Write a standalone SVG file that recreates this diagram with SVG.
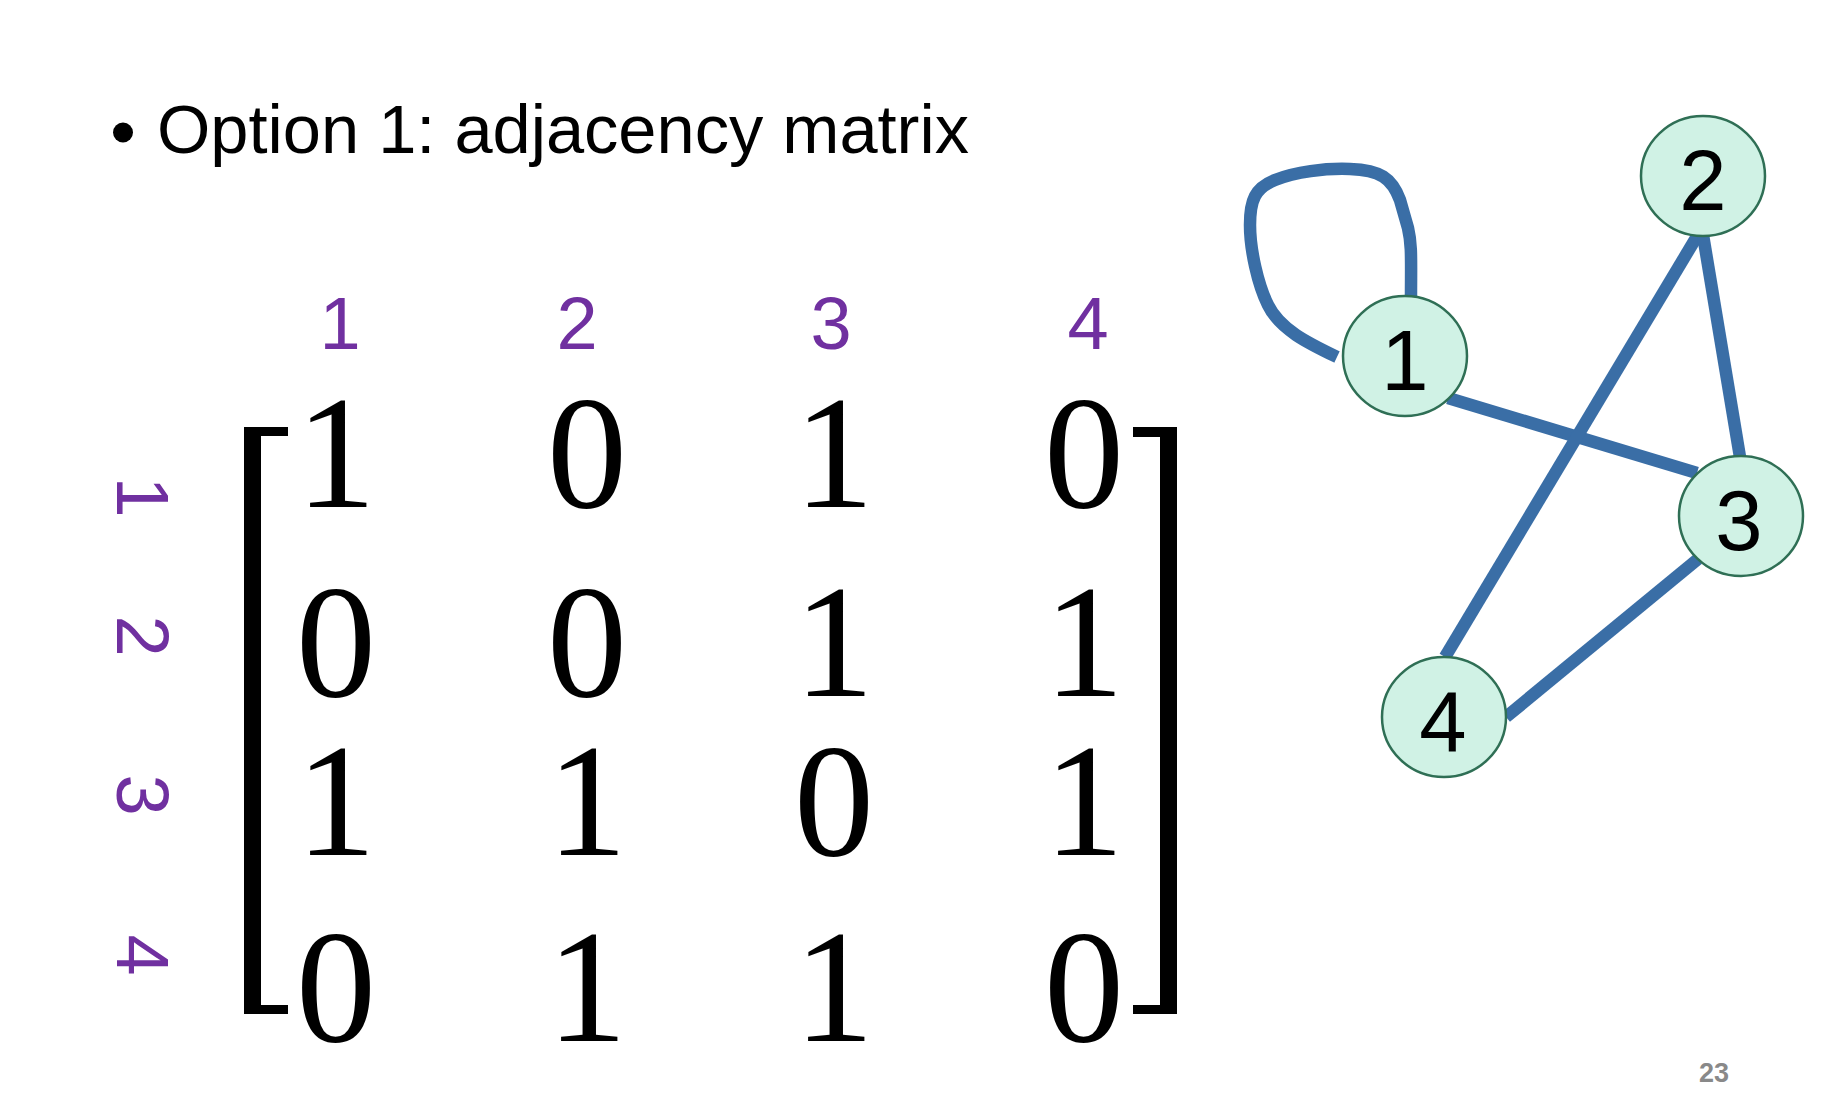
<svg xmlns="http://www.w3.org/2000/svg" width="1848" height="1096" viewBox="0 0 1848 1096">
<style>
.title{font-family:"Liberation Sans",Arial,sans-serif;font-size:68px;fill:#000}
.lab{font-family:"Liberation Sans",Arial,sans-serif;font-size:74px;fill:#7030a0;text-anchor:middle}
.cell{font-family:"Liberation Serif","Times New Roman",serif;font-size:160px;fill:#000;text-anchor:middle}
.node ellipse{fill:#d0f2e5;stroke:#2f6f55;stroke-width:2.5}
.node text{font-family:"Liberation Sans",Arial,sans-serif;font-size:85px;fill:#000;text-anchor:middle}
.edge{fill:none;stroke:#3a6ea6;stroke-width:12.5;stroke-linecap:butt;stroke-linejoin:round}
.pg{font-family:"Liberation Sans",Arial,sans-serif;font-size:27px;font-weight:bold;fill:#898989;text-anchor:middle}
</style>
<rect width="1848" height="1096" fill="#fff"/>
<g id="title">
<circle cx="123" cy="132.5" r="10" fill="#000"/>
<text class="title" x="157" y="153" textLength="812" lengthAdjust="spacingAndGlyphs">Option 1: adjacency matrix</text>
</g>
<g id="col-labels">
<text class="lab" x="340" y="349">1</text>
<text class="lab" x="577" y="349">2</text>
<text class="lab" x="831" y="349">3</text>
<text class="lab" x="1088" y="349">4</text>
</g>
<g id="row-labels">
<text class="lab" transform="translate(117,497) rotate(90)">1</text>
<text class="lab" transform="translate(117,636) rotate(90)">2</text>
<text class="lab" transform="translate(117,795) rotate(90)">3</text>
<text class="lab" transform="translate(117,955) rotate(90)">4</text>
</g>
<g id="matrix">
<path d="M244,427 H288 V436 H261 V1005 H288 V1014 H244 Z" fill="#000"/>
<path d="M1177,427 H1133 V437 H1160 V1005 H1133 V1014 H1177 Z" fill="#000"/>
<text class="cell" x="336" y="507">1</text>
<text class="cell" x="587" y="507">0</text>
<text class="cell" x="834" y="507">1</text>
<text class="cell" x="1084" y="507">0</text>
<text class="cell" x="336" y="696">0</text>
<text class="cell" x="587" y="696">0</text>
<text class="cell" x="834" y="696">1</text>
<text class="cell" x="1084" y="696">1</text>
<text class="cell" x="336" y="855">1</text>
<text class="cell" x="587" y="855">1</text>
<text class="cell" x="834" y="855">0</text>
<text class="cell" x="1084" y="855">1</text>
<text class="cell" x="336" y="1041">0</text>
<text class="cell" x="587" y="1041">1</text>
<text class="cell" x="834" y="1041">1</text>
<text class="cell" x="1084" y="1041">0</text>
</g>
<g id="connectors">
<path class="edge" d="M1337,357 C1310,344 1280,330 1268,305 C1258,285 1250,250 1250,225 C1250,200 1255,188 1275,180 C1295,172 1325,168 1350,169 C1380,170 1392,178 1400,200 L1408,228 C1412,245 1411,260 1411,297"/>
<path class="edge" d="M1406,308 L1417,300" stroke-width="10"/>
<path class="edge" d="M1448,398 L1697,473"/>
<path class="edge" d="M1699,233 L1445,657"/>
<path class="edge" d="M1703,235 L1740,457"/>
<path class="edge" d="M1698,559 L1506,717"/>
</g>
<g id="node1" class="node"><ellipse cx="1405" cy="356" rx="62" ry="60"/><text x="1405" y="390">1</text></g>
<g id="node2" class="node"><ellipse cx="1703" cy="176" rx="62" ry="60"/><text x="1703" y="210">2</text></g>
<g id="node3" class="node"><ellipse cx="1741" cy="516" rx="62" ry="60"/><text x="1739" y="550">3</text></g>
<g id="node4" class="node"><ellipse cx="1444" cy="717" rx="62" ry="60"/><text x="1443" y="751">4</text></g>
<text class="pg" x="1714" y="1082">23</text>
</svg>
